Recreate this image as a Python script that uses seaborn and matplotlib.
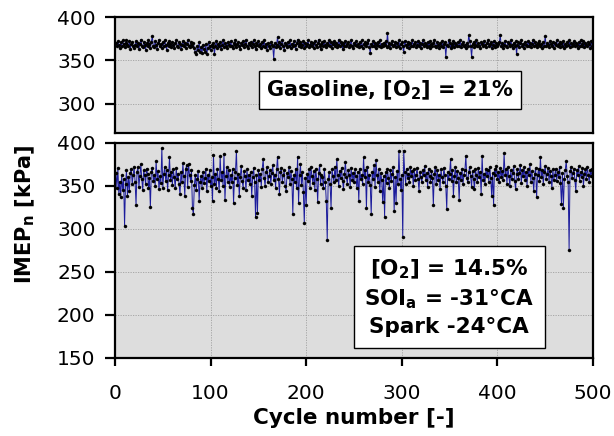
import numpy as np
import pandas as pd
import matplotlib
matplotlib.use("Agg")
import matplotlib.pyplot as plt
import seaborn as sns

# Net IMEP per cycle, gasoline at 21 % O2 (upper panel)
imep_gasoline = [
    370, 366, 372, 368, 364, 371, 367, 373, 369, 365, 370, 374, 368, 366, 372, 363, 369, 371, 367, 364,
    368, 372, 366, 370, 363, 369, 374, 367, 365, 371, 368, 362, 370, 366, 373, 369, 364, 371, 378, 367,
    365, 372, 368, 363, 370, 374, 366, 369, 364, 371, 367, 373, 368, 362, 370, 366, 372, 369, 365, 371,
    368, 364, 370, 373, 367, 365, 371, 369, 363, 368, 372, 366, 370, 364, 369, 373, 367, 365, 371, 368,
    366, 370, 364, 359, 357, 366, 362, 371, 360, 365, 358, 368, 363, 360, 369, 357, 364, 371, 366, 362,
    368, 365, 370, 357, 367, 372, 364, 369, 366, 371, 363, 368, 373, 365, 370, 367, 364, 371, 368, 366,
    372, 367, 364, 370, 368, 373, 365, 369, 371, 366, 363, 370, 368, 372, 365, 369, 374, 367, 364, 370,
    368, 371, 365, 369, 373, 366, 363, 370, 368, 372, 366, 369, 364, 371, 367, 373, 365, 369, 362, 370,
    367, 364, 371, 368, 366, 352, 370, 365, 368, 377, 366, 371, 364, 369, 373, 367, 362, 370, 368, 365,
    371, 367, 373, 364, 369, 366, 372, 368, 363, 370, 374, 366, 369, 371, 365, 368, 372, 364, 370, 367,
    369, 373, 365, 368, 371, 366, 370, 364, 372, 368, 365, 370, 374, 367, 363, 369, 371, 366, 372, 368,
    365, 370, 368, 373, 366, 371, 364, 369, 372, 367, 370, 365, 368, 374, 366, 371, 369, 363, 370, 367,
    372, 366, 369, 371, 365, 368, 373, 367, 364, 370, 368, 372, 366, 369, 365, 371, 367, 373, 364, 369,
    368, 371, 366, 370, 373, 365, 358, 369, 367, 372, 366, 370, 364, 368, 371, 367, 373, 365, 369, 366,
    370, 368, 372, 365, 382, 367, 370, 364, 369, 372, 366, 368, 371, 365, 370, 367, 373, 364, 369, 371,
    366, 360, 372, 368, 365, 371, 369, 364, 370, 367, 373, 366, 369, 371, 365, 368, 372, 366, 370, 364,
    369, 373, 366, 370, 368, 365, 371, 367, 372, 364, 369, 366, 370, 373, 367, 365, 371, 368, 364, 370,
    367, 372, 365, 369, 371, 354, 368, 366, 373, 370, 364, 369, 367, 372, 365, 370, 368, 366, 371, 367,
    373, 365, 369, 371, 366, 368, 364, 370, 367, 379, 372, 366, 354, 369, 371, 365, 368, 373, 366, 370,
    367, 364, 371, 369, 366, 372, 368, 365, 370, 373, 366, 369, 371, 364, 368, 372, 367, 365, 370, 366,
    369, 371, 379, 366, 370, 364, 368, 372, 367, 365, 371, 369, 366, 373, 368, 364, 370, 367, 372, 357,
    368, 371, 365, 370, 373, 366, 369, 364, 371, 368, 366, 372, 367, 370, 365, 369, 373, 366, 371, 368,
    365, 370, 368, 372, 366, 369, 364, 371, 367, 378, 366, 370, 368, 365, 372, 369, 366, 371, 364, 370,
    368, 373, 366, 369, 371, 365, 370, 367, 372, 364, 369, 366, 371, 368, 373, 365, 370, 367, 369, 372,
    366, 370, 368, 364, 371, 367, 373, 366, 369, 372, 365, 370, 368, 366, 371, 369, 364, 372, 367, 370,
]

# Net IMEP per cycle, 14.5 % O2, SOI -31 CA, spark -24 CA (lower panel)
imep_dilute = [
    365, 348, 371, 340, 355, 337, 362, 345, 358, 303, 352, 368, 338, 360, 344, 365, 370, 352, 363, 372,
    355, 328, 366, 372, 349, 361, 375, 358, 345, 368, 362, 352, 370, 364, 348, 359, 325, 366, 371, 356,
    362, 350, 379, 358, 367, 346, 361, 353, 394, 348, 364, 372, 356, 368, 345, 362, 383, 357, 366, 351,
    369, 360, 347, 371, 358, 364, 352, 340, 366, 355, 376, 361, 338, 370, 374, 349, 375, 362, 356, 368,
    324, 317, 351, 363, 345, 358, 367, 332, 355, 361, 348, 366, 353, 359, 370, 344, 362, 356, 368, 350,
    360, 332, 386, 352, 364, 347, 369, 358, 344, 385, 357, 366, 350, 387, 333, 361, 372, 355, 368, 349,
    362, 354, 370, 330, 359, 366, 391, 351, 364, 338, 360, 373, 356, 348, 367, 361, 345, 369, 357, 363,
    352, 366, 338, 360, 371, 355, 314, 362, 318, 368, 357, 364, 349, 370, 381, 359, 350, 366, 372, 354,
    361, 368, 352, 365, 374, 357, 363, 348, 369, 384, 358, 341, 366, 371, 355, 362, 368, 350, 344, 365,
    360, 372, 352, 367, 358, 317, 363, 355, 370, 348, 384, 330, 362, 375, 351, 366, 343, 307, 359, 328,
    364, 356, 369, 348, 372, 361, 353, 367, 345, 370, 358, 331, 365, 374, 352, 363, 360, 347, 369, 355,
    332, 287, 358, 366, 352, 324, 369, 361, 355, 372, 357, 381, 363, 350, 367, 359, 371, 356, 346, 364,
    378, 360, 352, 368, 363, 349, 371, 357, 365, 354, 369, 361, 347, 366, 332, 370, 358, 363, 352, 383,
    360, 368, 324, 372, 355, 363, 351, 317, 366, 358, 374, 349, 380, 362, 355, 369, 344, 365, 357, 331,
    361, 314, 366, 353, 370, 359, 348, 368, 356, 364, 372, 321, 360, 330, 367, 352, 390, 358, 345, 363,
    290, 391, 366, 352, 370, 359, 364, 355, 372, 361, 367, 350, 369, 357, 363, 371, 358, 344, 366, 360,
    354, 368, 362, 373, 357, 365, 349, 370, 361, 355, 367, 359, 328, 364, 372, 352, 368, 357, 363, 346,
    369, 360, 355, 371, 362, 350, 323, 366, 358, 364, 381, 356, 368, 338, 361, 372, 354, 367, 359, 333,
    365, 357, 370, 352, 363, 368, 385, 359, 354, 366, 372, 361, 349, 367, 358, 346, 369, 363, 355, 371,
    360, 366, 340, 385, 357, 364, 352, 370, 361, 368, 355, 372, 359, 338, 365, 328, 369, 362, 373, 358,
    366, 354, 371, 360, 367, 357, 388, 363, 369, 352, 372, 361, 350, 368, 358, 365, 373, 356, 346, 364,
    370, 358, 365, 374, 353, 368, 361, 372, 357, 366, 350, 369, 362, 375, 355, 367, 359, 344, 364, 371,
    337, 362, 370, 356, 383, 360, 368, 352, 366, 373, 358, 364, 371, 355, 367, 361, 347, 369, 357, 363,
    370, 356, 366, 360, 372, 353, 329, 365, 324, 358, 368, 379, 361, 354, 276, 367, 372, 359, 365, 370,
    357, 344, 368, 362, 373, 356, 366, 360, 371, 350, 364, 369, 358, 372, 363, 355, 368, 361, 370, 365,
]

cycles = np.arange(1, len(imep_dilute) + 1)

x_ticks = [0, 100, 200, 300, 400, 500]
y_ticks_top = [300, 350, 400]
y_ticks_bottom = [150, 200, 250, 300, 350, 400]

label_top = "Gasoline, [O$_\\mathbf{2}$] = 21%"
label_bottom = "[O$_\\mathbf{2}$] = 14.5%\nSOI$_\\mathbf{a}$ = -31°CA\nSpark -24°CA"

sns.set_style("ticks")
plt.rcParams["font.family"] = ["DejaVu Sans"]
plt.rcParams["mathtext.fontset"] = "dejavusans"
for key in ("text.color", "axes.labelcolor", "xtick.color", "ytick.color", "axes.edgecolor"):
    plt.rcParams[key] = "black"

fig = plt.figure(figsize=(6.14, 4.36), dpi=100)
ax_top = fig.add_axes([0.1873, 0.695, 0.7785, 0.266])
ax_bot = fig.add_axes([0.1873, 0.179, 0.7785, 0.4935])

df_top = pd.DataFrame({"cycle": cycles, "imep": imep_gasoline})
df_bot = pd.DataFrame({"cycle": cycles, "imep": imep_dilute})

line_kw = dict(color="#1c1c9c", linewidth=0.7, marker="o", markersize=2.2,
               markerfacecolor="black", markeredgecolor="black", markeredgewidth=0.3)

for ax, df, yticks, ylim in [
    (ax_top, df_top, y_ticks_top, (266, 400)),
    (ax_bot, df_bot, y_ticks_bottom, (150, 400)),
]:
    ax.set_facecolor("#dddddd")
    sns.lineplot(data=df, x="cycle", y="imep", ax=ax, **line_kw)
    ax.set_xlim(0, 500)
    ax.set_ylim(*ylim)
    ax.set_xticks(x_ticks)
    ax.set_yticks(yticks)
    ax.grid(True, color="#a0a0a0", linestyle=(0, (1.5, 1.5)), linewidth=0.6)
    ax.set_axisbelow(True)
    for s in ax.spines.values():
        s.set_linewidth(1.6)
        s.set_color("black")
    ax.tick_params(axis="y", direction="out", length=7, width=1.6, pad=7,
                   labelsize=14.5, colors="black")
    ax.set_xlabel("")
    ax.set_ylabel("")

ax_top.tick_params(axis="x", length=0, labelbottom=False)
ax_bot.tick_params(axis="x", direction="out", length=6, width=1.6, pad=13,
                   labelsize=14.5, colors="black")

ax_top.text(0.575, 0.37, label_top, transform=ax_top.transAxes, ha="center", va="center",
            fontsize=15, fontweight="bold",
            bbox=dict(boxstyle="square,pad=0.34", facecolor="white", edgecolor="black", linewidth=1.0))
ax_bot.text(0.699, 0.281, label_bottom, transform=ax_bot.transAxes, ha="center", va="center",
            fontsize=15.5, fontweight="bold", linespacing=1.35,
            bbox=dict(boxstyle="square,pad=0.5", facecolor="white", edgecolor="black", linewidth=1.0))

fig.text(0.042, 0.509, "IMEP$_\\mathbf{n}$ [kPa]", rotation=90, ha="center", va="center",
         fontsize=15, fontweight="bold")
fig.text(0.577, 0.042, "Cycle number [-]", ha="center", va="center",
         fontsize=15.5, fontweight="bold")

fig.savefig("out.png", dpi=100)
